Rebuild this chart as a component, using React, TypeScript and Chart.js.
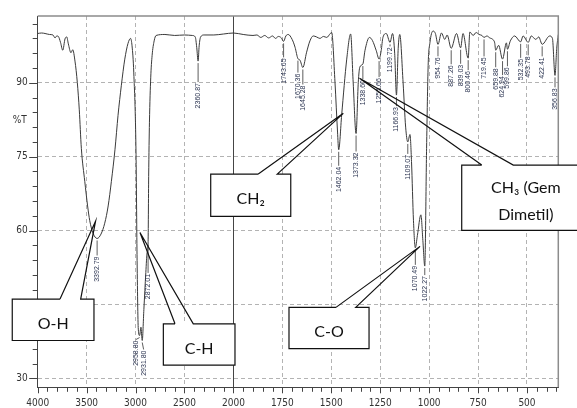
import React, { useEffect, useRef } from "react";
import { Chart, registerables } from "chart.js";

Chart.register(...registerables);

// ---- data (wavenumber cm-1, %T) ----
const wavenumbers = [
  4000, 3960, 3925, 3880, 3844, 3823, 3805, 3789, 3767, 3744, 3721, 3703, 3687, 3660, 3642, 3619,
  3595, 3575, 3554, 3519, 3490, 3468, 3435, 3392.79, 3353, 3315, 3280, 3247, 3210, 3179, 3145,
  3110, 3077, 3051, 3036, 3018, 2995, 2985, 2972, 2958.8, 2945, 2931.8, 2915, 2895, 2882, 2872.01,
  2866, 2858, 2845, 2831, 2810, 2790, 2700, 2600, 2500, 2420, 2390, 2375, 2360.87, 2350, 2335,
  2300, 2200, 2100, 2000, 1950, 1900, 1880, 1860, 1840, 1820, 1800, 1785, 1770, 1755, 1743.65,
  1732, 1720, 1700, 1685, 1670.36, 1660, 1645.28, 1626, 1609, 1592, 1575, 1558, 1540, 1523, 1505,
  1498, 1481, 1468, 1462.04, 1447, 1421, 1401, 1388, 1373.32, 1362, 1354, 1338.6, 1328, 1305,
  1290, 1270, 1255.66, 1245, 1236, 1219, 1199.72, 1187, 1176, 1166.93, 1158, 1150, 1133, 1120,
  1109.07, 1098, 1090, 1080, 1070.49, 1060, 1042, 1032, 1022.27, 1013, 1005, 996, 980, 968,
  954.76, 937, 920, 908, 887.26, 860, 839.03, 827, 800.46, 792, 775, 760, 745, 730, 719.45, 705,
  690, 675, 665, 659.88, 645, 624.94, 605, 599.86, 585, 563, 532.35, 520, 493.78, 478, 455, 440,
  422.41, 384, 370, 356.83, 348, 340,
];
const transmittance = [
  100.0, 100.1, 100.0, 99.8, 99.7, 99.1, 99.5, 99.4, 98.2, 96.6, 98.9, 99.3, 97.9, 96.1, 96.7, 94.4,
  90.0, 84.5, 76.7, 70.0, 65.0, 62.0, 59.5, 58.4, 59.3, 61.5, 65.0, 70.0, 76.5, 83.4, 89.5,
  94.8, 98.0, 99.0, 97.5, 92.0, 75.4, 55.2, 40.0, 38.7, 40.4, 37.7, 44.0, 51.5, 55.5, 57.5,
  71.0, 82.0, 91.0, 95.5, 98.5, 99.6, 99.8, 99.6, 99.7, 99.6, 99.3, 97.2, 94.4, 97.5, 99.3,
  99.7, 99.7, 99.9, 100.1, 99.8, 99.6, 99.7, 99.2, 99.6, 99.1, 99.5, 99.0, 99.4, 99.1, 98.4,
  99.5, 99.8, 98.8, 97.2, 94.9, 94.6, 93.1, 96.2, 98.5, 99.5, 99.3, 99.0, 99.4, 99.2, 100.0,
  100.2, 90.1, 80.0, 76.4, 83.4, 94.8, 99.9, 90.0, 79.7, 90.1, 93.2, 93.8, 96.5, 99.2,
  98.6, 96.5, 94.8, 96.5, 99.2, 100.0, 98.2, 100.0, 96.0, 87.5, 97.0, 99.8, 90.0, 81.0,
  78.0, 79.5, 74.0, 62.0, 56.5, 59.0, 63.2, 58.0, 52.8, 76.7, 93.5, 98.1, 100.5, 100.0,
  97.8, 100.1, 98.8, 99.7, 97.0, 100.0, 97.1, 100.0, 95.0, 100.3, 99.6, 100.2, 99.8, 99.6, 99.2, 99.5,
  99.1, 98.8, 98.1, 96.6, 97.6, 94.8, 98.1, 96.8, 98.5, 99.5, 98.3, 99.5, 98.2, 99.5, 98.8, 99.3,
  97.8, 99.5, 99.0, 91.5, 97.0, 99.8,
];

const peakLabels = [
  "3392.79", "2958.80", "2931.80", "2872.01", "2360.87", "1743.65", "1670.36", "1645.28",
  "1462.04", "1373.32", "1338.60", "1255.66", "1199.72", "1166.93", "1109.07", "1070.49",
  "1022.27", "954.76", "887.26", "839.03", "800.46", "719.45", "659.88", "624.94", "599.86",
  "532.35", "493.78", "422.41", "356.83",
];
// styling: lead-line length (px) below each peak, and small sideways nudge (px)
const peakLabelGap = [
  18, 5, 10, 31, 22, 17, 15, 18, 17, 19, 16, 19, 5, 12, 13, 18, 10, 13, 17, 17, 13, 20, 18, 17,
  18, 17, 14, 13, 13,
];
const peakLabelNudge = [
  0, -3.7, 1.4, 0, 0, 0, 0, 0, 0, 0, 0, 0, 0, 0, 0, 0, 0, 0, 0, 0, 0, 0, 0, 0, 0, 0, 0, 0, 0,
];

const xTickValues = [4000, 3500, 3000, 2500, 2000, 1750, 1500, 1250, 1000, 750, 500];
const yTickValues = [30, 45, 60, 75, 90];
const yMinorTickValues = [30, 33, 36, 39, 42, 45, 48, 51, 54, 57, 60, 63, 66, 69, 72, 75, 78, 81, 84, 87, 90, 93, 96, 99, 102];
const xMinorTickValues = [
  4000, 3900, 3800, 3700, 3600, 3500, 3400, 3300, 3200, 3100, 3000, 2900, 2800, 2700, 2600, 2500,
  2400, 2300, 2200, 2100, 2000, 1950, 1900, 1850, 1800, 1750, 1700, 1650, 1600, 1550, 1500, 1450,
  1400, 1350, 1300, 1250, 1200, 1150, 1100, 1050, 1000, 950, 900, 850, 800, 750, 700, 650, 600,
  550, 500, 450, 400, 350,
];

// callouts: box [wLeft, wRight, Ttop, Tbottom], pointer base [w1, w2] on top edge, tip [w, T]
const callouts = [
  { lines: ["O-H"], box: [4260, 3425, 46.1, 37.7], base: [3772, 3561], tip: [3409, 61.9] },
  { lines: ["C-H"], box: [2716, 1992, 41.08, 32.68], base: [2597, 2410], tip: [2955, 59.6] },
  { lines: ["CH\u2082"], box: [2232, 1707, 71.48, 62.88], base: [1873, 1776], tip: [1438.5, 83.8] },
  { lines: ["CH\u2083 (Gem", "Dimetil)"], box: [833.5, 178, 73.29, 60.06], base: [731, 570], tip: [1355.7, 90.9] },
  { lines: ["C-O"], box: [1716, 1307, 44.42, 36.04], base: [1476, 1375], tip: [1046.6, 56.8] },
];

const W_MIN = 340;
const toU = (w: number) => (w >= 2000 ? (4000 - w) / 2 : 1000 + (2000 - w));
const fromU = (u: number) => (u <= 1000 ? 4000 - 2 * u : 2000 - (u - 1000));

const NARROW = "'Liberation Sans Narrow', 'DejaVu Sans Condensed', 'Liberation Sans', sans-serif";

export default function App() {
  const ref = useRef<HTMLCanvasElement>(null);

  useEffect(() => {
    document.body.style.margin = "0";
    const canvas = ref.current!;

    const overlay = {
      id: "irOverlay",
      afterDatasetsDraw(chart: any) {
        const { ctx, chartArea: a, scales } = chart;
        const px = (w: number) => scales.x.getPixelForValue(toU(w));
        const py = (t: number) => scales.y.getPixelForValue(t);
        ctx.save();
        // frame top/right
        ctx.strokeStyle = "#8c8c8c";
        ctx.lineWidth = 1.5;
        ctx.beginPath();
        ctx.moveTo(a.left, a.top);
        ctx.lineTo(a.right, a.top);
        ctx.lineTo(a.right, a.bottom);
        ctx.stroke();
        // ticks
        ctx.strokeStyle = "#444";
        ctx.lineWidth = 1;
        ctx.beginPath();
        yMinorTickValues.forEach((v) => {
          const y = Math.round(py(v)) + 0.5;
          const len = v % 15 === 0 ? 8.5 : 5;
          ctx.moveTo(a.left - len, y);
          ctx.lineTo(a.left, y);
        });
        xMinorTickValues.forEach((w) => {
          const x = Math.round(px(w)) + 0.5;
          const len = xTickValues.includes(w) ? 6 : 4.5;
          ctx.moveTo(x, a.bottom);
          ctx.lineTo(x, a.bottom + len);
        });
        ctx.stroke();
        // %T
        ctx.fillStyle = "#333";
        ctx.font = `10px ${NARROW}`;
        ctx.textAlign = "right";
        ctx.textBaseline = "middle";
        ctx.fillText("%T", a.left - 11, py(82.4));
        // peak labels
        ctx.font = "7px 'Liberation Sans', Arial, sans-serif";
        peakLabels.forEach((lab, k) => {
          const w = parseFloat(lab);
          let best = 0;
          wavenumbers.forEach((v, i) => {
            if (Math.abs(v - w) < Math.abs(wavenumbers[best] - w)) best = i;
          });
          const x = px(w);
          const xl = x + peakLabelNudge[k];
          const y0 = py(transmittance[best]);
          const top = y0 + peakLabelGap[k];
          ctx.strokeStyle = "#333";
          ctx.lineWidth = 0.8;
          ctx.beginPath();
          ctx.moveTo(x, y0 + 2);
          ctx.lineTo(xl, top - 1);
          ctx.stroke();
          ctx.save();
          ctx.translate(xl, top);
          ctx.rotate(-Math.PI / 2);
          ctx.fillStyle = "#2a3350";
          ctx.textAlign = "right";
          ctx.textBaseline = "middle";
          ctx.fillText(lab, 0, 0);
          ctx.restore();
        });
        ctx.restore();
      },
      afterDraw(chart: any) {
        const { ctx, scales } = chart;
        const px = (w: number) => scales.x.getPixelForValue(toU(w));
        const py = (t: number) => scales.y.getPixelForValue(t);
        ctx.save();
        callouts.forEach((c) => {
          const L = px(c.box[0]);
          const R = px(c.box[1]);
          const T = py(c.box[2]);
          const B = py(c.box[3]);
          const b1 = px(c.base[0]);
          const b2 = px(c.base[1]);
          const tx = px(c.tip[0]);
          const ty = py(c.tip[1]);
          ctx.fillStyle = "#ffffff";
          ctx.fillRect(L, T, R - L, B - T);
          ctx.strokeStyle = "#111";
          ctx.lineWidth = 1.2;
          ctx.beginPath();
          ctx.moveTo(b1, T);
          ctx.lineTo(L, T);
          ctx.lineTo(L, B);
          ctx.lineTo(R, B);
          ctx.lineTo(R, T);
          ctx.lineTo(b2, T);
          ctx.lineTo(tx, ty);
          ctx.lineTo(b1, T);
          ctx.stroke();
          ctx.fillStyle = "#111";
          ctx.font = "16px Lato, 'Open Sans', sans-serif";
          ctx.textAlign = "center";
          ctx.textBaseline = "alphabetic";
          const cx = (L + R) / 2;
          const cy = (T + B) / 2 + 9;
          const n = c.lines.length;
          c.lines.forEach((s, i) => {
            ctx.fillText(s, cx, cy + (i - (n - 1) / 2) * 27);
          });
        });
        ctx.restore();
      },
    };

    const tickFont = { family: NARROW, size: 10 };

    const chart = new Chart(canvas, {
      type: "line",
      data: {
        datasets: [
          {
            data: wavenumbers.map((w, i) => ({ x: toU(w), y: transmittance[i] })),
            borderColor: "#3a3a3a",
            borderWidth: 1,
            pointRadius: 0,
            cubicInterpolationMode: "monotone",
            fill: false,
          },
        ],
      },
      options: {
        animation: false,
        responsive: false,
        layout: { padding: { left: 0, top: 13, right: 18.7, bottom: 0 } },
        plugins: { legend: { display: false }, tooltip: { enabled: false } },
        scales: {
          x: {
            type: "linear",
            min: 0,
            max: toU(W_MIN),
            afterBuildTicks: (s: any) => {
              s.ticks = xTickValues.map((w) => ({ value: toU(w) }));
            },
            afterFit: (s: any) => {
              s.height = 20.7;
            },
            ticks: {
              autoSkip: false,
              maxRotation: 0,
              padding: 10,
              color: "#333",
              font: tickFont,
              callback: (v: any) => String(Math.round(fromU(Number(v)))),
            },
            grid: {
              drawTicks: false,
              lineWidth: 1,
              color: (c: any) => {
                const v = c.tick ? c.tick.value : -1;
                if (v === 0) return "rgba(0,0,0,0)";
                if (v === 1000) return "#454545";
                return "#b3b3b3";
              },
            },
            border: {
              color: "#444",
              width: 1,
              dash: (c: any) => (c.tick && c.tick.value === 1000 ? [] : [4, 3]),
            },
          },
          y: {
            type: "linear",
            min: 28.2,
            max: 103.55,
            afterBuildTicks: (s: any) => {
              s.ticks = yTickValues.map((v) => ({ value: v }));
            },
            afterFit: (s: any) => {
              s.width = 37.7;
            },
            ticks: { padding: 10, color: "#333", font: tickFont },
            grid: { drawTicks: false, lineWidth: 1, color: "#b3b3b3" },
            border: { color: "#444", width: 1, dash: [4, 3] },
          },
        },
      } as any,
      plugins: [overlay],
    });

    return () => chart.destroy();
  }, []);

  return (
    <div style={{ width: 577, height: 408 }}>
      <canvas ref={ref} width={577} height={408} style={{ display: "block" }} />
    </div>
  );
}
